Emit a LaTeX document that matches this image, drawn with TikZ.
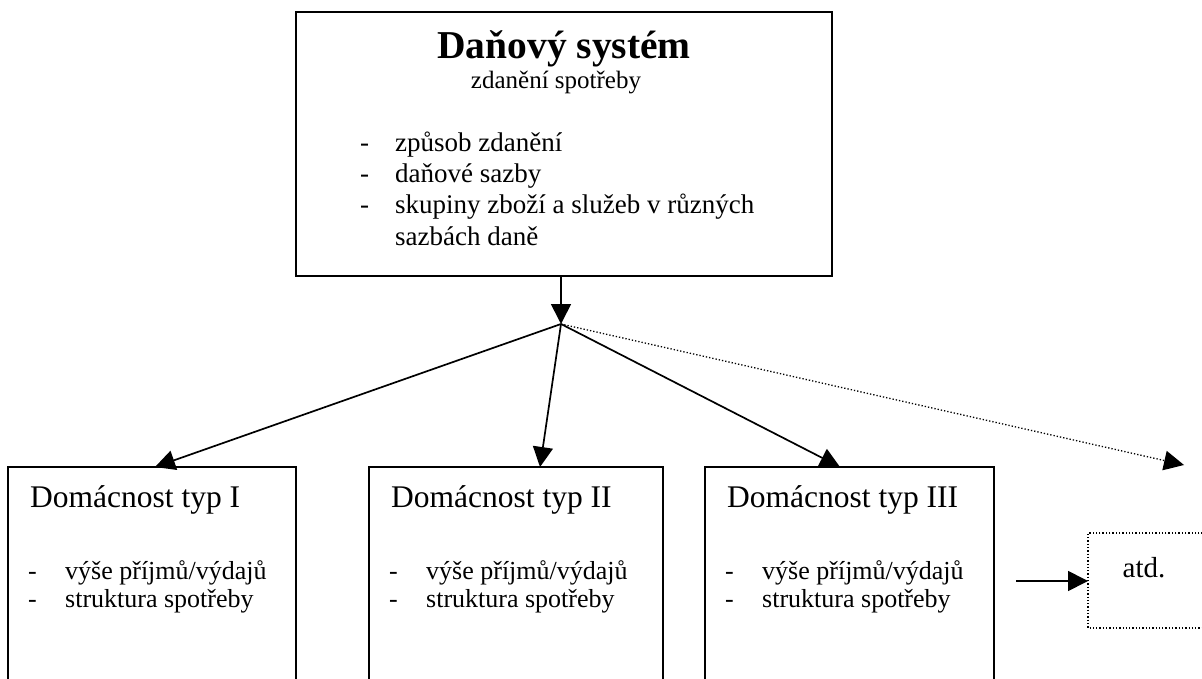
\documentclass[tikz,border=0pt]{standalone}
\usepackage{fontspec}
\setmainfont{Liberation Serif}
\usetikzlibrary{arrows.meta}
\begin{document}
\begin{tikzpicture}[x=1pt,y=-1pt,
  box/.style={draw,line width=1.6pt},
  dotbox/.style={draw,line width=1.3pt,dotted},
  conn/.style={line width=1.7pt,-{Triangle[length=20pt,width=20pt]}},
  dotconn/.style={line width=1.3pt,dotted,-{Triangle[length=20pt,width=20pt,line width=0pt]}},
  txt/.style={inner sep=0pt,anchor=base west},
  ctxt/.style={inner sep=0pt,anchor=base},
  big/.style={font=\fontsize{27}{31}\selectfont},
  sub/.style={font=\fontsize{26}{30}\selectfont}]
\useasboundingbox (0,0) rectangle (1202,679);

% main box
\node (top) [box, inner sep=0pt, minimum width=536pt, minimum height=264pt] at (564,144) {};
\node[ctxt,font=\fontsize{39.5}{44}\selectfont\bfseries] at (564,59) {Daňový systém};
\node[ctxt,font=\fontsize{25}{29}\selectfont] at (556,89) {zdanění spotřeby};
\foreach \y/\t in {152/způsob zdanění,183/daňové sazby,214/skupiny zboží a služeb v různých} {
  \node[txt,big] at (360,\y) {-};
  \node[txt,big] at (395,\y) {\t};
}
\node[txt,big] at (395,245) {sazbách daně};

% branching point below the main box
\coordinate (j) at (561,324);
\draw[conn] (top.south -| j) -- (j);

% household boxes (open at the bottom edge)
\foreach \n/\x/\w/\name in {h1/8/288/I,h2/369/294/II,h3/705/289/III} {
  \draw[box] (\x,682) |- (\x+\w,467) -- (\x+\w,682);
  \node[txt,font=\fontsize{31.5}{35}\selectfont] at (\x+22,507) {Domácnost typ \name};
  \node[txt,sub] at (\x+20,579) {-};
  \node[txt,sub] at (\x+57,579) {výše příjmů/výdajů};
  \node[txt,sub] at (\x+20,607) {-};
  \node[txt,sub] at (\x+57,607) {struktura spotřeby};
}
\coordinate (h1t) at (155,467);
\coordinate (h2t) at (540,467);
\coordinate (h3t) at (840,467);
\coordinate (etc) at (1184,465);
\draw[conn] (j) -- (h1t);
\draw[conn] (j) -- (h2t);
\draw[conn] (j) -- (h3t);
\draw[dotconn] (j) -- (etc);

% "atd." box, running off the right edge
\draw[dotbox] (1206,533) -| (1088,628) -- (1206,628);
\node (atd) [ctxt,font=\fontsize{29}{33}\selectfont] at (1144,577) {atd.};
\coordinate (ain) at (1088,581);
\coordinate (aout) at (1016,581);
\draw[conn] (aout) -- (ain);
\end{tikzpicture}
\end{document}
